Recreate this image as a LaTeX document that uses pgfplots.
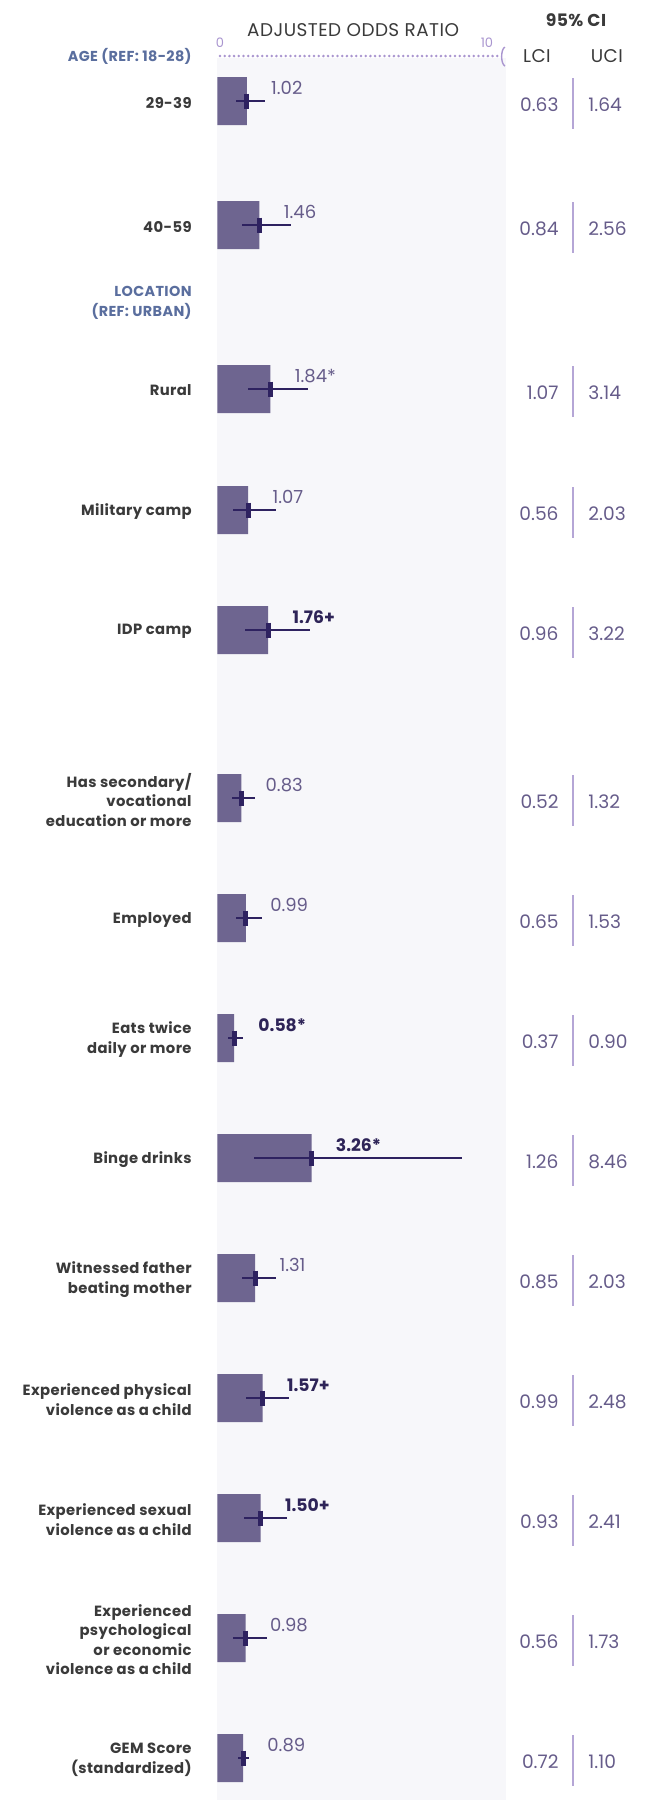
\documentclass[border=0pt]{standalone}
\usepackage{pgfplots}
\usepackage{pgfplotstable}
\pgfplotsset{compat=1.18}
\usepackage{fontspec}
\setmainfont{Poppins}
\newfontfamily\labfont{Poppins}[LetterSpace=2.5]
\newfontfamily\numfont{Poppins}

\definecolor{barcol}{HTML}{6E6590}
\definecolor{cicol}{HTML}{2E2260}
\definecolor{valcol}{HTML}{665C8A}
\definecolor{boldval}{HTML}{2E2458}
\definecolor{labcol}{HTML}{3A3A3A}
\definecolor{seccol}{HTML}{5A6E9E}
\definecolor{tickcol}{HTML}{A995CF}
\definecolor{sepcol}{HTML}{B5A6D6}
\definecolor{panel}{HTML}{F7F7FA}

% y = row centre (px from top), or = adjusted odds ratio, lci/uci = 95% CI
\pgfplotstableread{
y    or    lci   uci
101  1.02  0.63  1.64
225  1.46  0.84  2.56
389  1.84  1.07  3.14
510  1.07  0.56  2.03
630  1.76  0.96  3.22
798  0.83  0.52  1.32
918  0.99  0.65  1.53
1038 0.58  0.37  0.90
1158 3.26  1.26  8.46
1278 1.31  0.85  2.03
1398 1.57  0.99  2.48
1518 1.50  0.93  2.41
1638 0.98  0.56  1.73
1758 0.89  0.72  1.10
}\ordata

% category label
\newcommand{\cat}[2]{\node[anchor=east, align=right, inner sep=0, text=labcol,
  font=\labfont\bfseries\fontsize{7.4pt}{9.75pt}\selectfont] at (axis cs:-0.875,#1+1.5) {#2};}
% odds ratio value next to the bar
\newcommand{\val}[3]{\node[anchor=west, inner sep=0, text=valcol,
  font=\numfont\fontsize{9pt}{10pt}\selectfont, xshift=12pt, yshift=6.5pt] at (axis cs:#1,#2) {#3};}
\newcommand{\bval}[3]{\node[anchor=west, inner sep=0, text=boldval,
  font=\numfont\bfseries\fontsize{8.6pt}{10pt}\selectfont, xshift=12pt, yshift=6.5pt] at (axis cs:#1,#2) {#3};}
% CI columns
\newcommand{\ci}[3]{%
  \node[anchor=east, inner sep=0, text=valcol, font=\numfont\fontsize{9.3pt}{10pt}\selectfont, yshift=-2pt] at (axis cs:11.82,#1) {#2};
  \node[anchor=west, inner sep=0, text=valcol, font=\numfont\fontsize{9.3pt}{10pt}\selectfont, yshift=-2pt] at (axis cs:12.83,#1) {#3};
  \draw[sepcol, line width=1.2pt] (axis cs:12.31,#1-23) -- (axis cs:12.31,#1+28);}

\begin{document}
\begin{tikzpicture}
\begin{axis}[
    scale only axis,
    width=322pt, height=900pt,
    at={(0,0)}, anchor=north west,
    xmin=-7.519, xmax=14.765,
    ymin=0, ymax=1800,
    y dir=reverse,
    hide axis,
    clip=false,
]
\path (rel axis cs:0,0) rectangle (rel axis cs:1,1);
% panel behind the bars
\fill[panel] (axis cs:0,58) rectangle (axis cs:9.99,1800);

% bars
\addplot[xbar, bar width=24pt, fill=barcol, draw=none] table[x=or, y=y] {\ordata};
% confidence intervals
\addplot[draw=none, mark=none,
    error bars/.cd, x dir=both, x explicit,
    error mark=none,
    error bar style={line width=1.35pt, cicol}]
    table[x=or, y=y,
      x error plus expr=\thisrow{uci}-\thisrow{or},
      x error minus expr=\thisrow{or}-\thisrow{lci}] {\ordata};
% point estimate
\addplot[only marks, mark=|, mark size=3.75pt,
    mark options={line width=2.5pt, cicol}] table[x=or, y=y] {\ordata};

% header
\node[font=\labfont\fontsize{9.2pt}{10pt}\selectfont, text=labcol, inner sep=0] at (axis cs:4.70,30) {ADJUSTED ODDS RATIO};
\node[font=\labfont\bfseries\fontsize{8.6pt}{10pt}\selectfont, text=labcol, inner sep=0] at (axis cs:12.41,20) {95\% CI};
\node[font=\labfont\fontsize{9.2pt}{10pt}\selectfont, text=labcol, inner sep=0] at (axis cs:11.06,56) {LCI};
\node[font=\labfont\fontsize{9.2pt}{10pt}\selectfont, text=labcol, inner sep=0] at (axis cs:13.48,56) {UCI};
\node[font=\numfont\fontsize{6.5pt}{7pt}\selectfont, text=tickcol, inner sep=0] at (axis cs:0.093,43) {0};
\node[font=\numfont\fontsize{6.5pt}{7pt}\selectfont, text=tickcol, inner sep=0] at (axis cs:9.33,43) {10};
\draw[tickcol, line width=1.4pt, line cap=round, dash pattern=on 0pt off 2.35pt] (axis cs:0.093,56) -- (axis cs:9.71,56);
\draw[tickcol, line width=0.7pt] (axis cs:9.955,47) .. controls (axis cs:9.80,49) and (axis cs:9.80,64) .. (axis cs:9.955,66);

% section headings
\node[anchor=east, inner sep=0, text=seccol, font=\labfont\bfseries\fontsize{7.2pt}{9.75pt}\selectfont] at (axis cs:-0.875,56) {AGE (REF: 18-28)};
\node[anchor=east, align=right, inner sep=0, text=seccol, font=\labfont\bfseries\fontsize{7.2pt}{9.75pt}\selectfont] at (axis cs:-0.875,303) {LOCATION\\(REF: URBAN)};

% category labels
\cat{101}{29-39}
\cat{225}{40-59}
\cat{389}{Rural}
\cat{510}{Military camp}
\cat{630}{IDP camp}
\cat{798}{Has secondary/\\vocational\\education or more}
\cat{918}{Employed}
\cat{1038}{Eats twice\\daily or more}
\cat{1158}{Binge drinks}
\cat{1278}{Witnessed father\\beating mother}
\cat{1398}{Experienced physical\\violence as a child}
\cat{1518}{Experienced sexual\\violence as a child}
\cat{1638}{Experienced\\psychological\\or economic\\violence as a child}
\cat{1758}{GEM Score\\(standardized)}

% odds ratio labels
\val{1.02}{101}{1.02}
\val{1.46}{225}{1.46}
\val{1.84}{389}{1.84*}
\val{1.07}{510}{1.07}
\bval{1.76}{630}{1.76+}
\val{0.83}{798}{0.83}
\val{0.99}{918}{0.99}
\bval{0.58}{1038}{0.58*}
\bval{3.26}{1158}{3.26*}
\val{1.31}{1278}{1.31}
\bval{1.57}{1398}{1.57+}
\bval{1.50}{1518}{1.50+}
\val{0.98}{1638}{0.98}
\val{0.89}{1758}{0.89}

% CI values
\ci{101}{0.63}{1.64}
\ci{225}{0.84}{2.56}
\ci{389}{1.07}{3.14}
\ci{510}{0.56}{2.03}
\ci{630}{0.96}{3.22}
\ci{798}{0.52}{1.32}
\ci{918}{0.65}{1.53}
\ci{1038}{0.37}{0.90}
\ci{1158}{1.26}{8.46}
\ci{1278}{0.85}{2.03}
\ci{1398}{0.99}{2.48}
\ci{1518}{0.93}{2.41}
\ci{1638}{0.56}{1.73}
\ci{1758}{0.72}{1.10}
\end{axis}
\end{tikzpicture}
\end{document}
